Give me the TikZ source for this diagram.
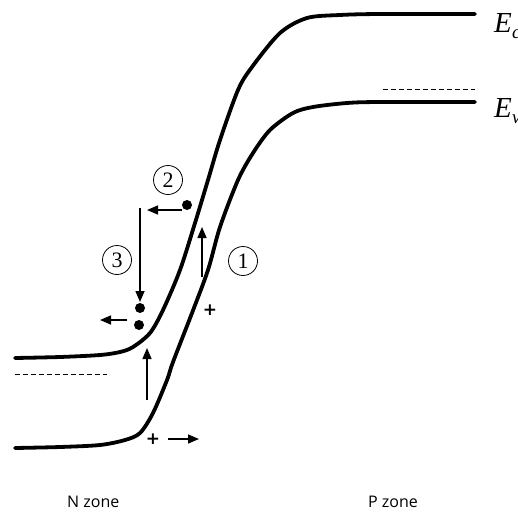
\documentclass[tikz,border=0pt]{standalone}
\usepackage{fontspec}
\setmainfont{Liberation Serif}
\newfontfamily\zonefont{Open Sans}
\newfontfamily\plusfont{DejaVu Sans}
\usetikzlibrary{arrows.meta}
\tikzset{
  band/.style={line width=3.8pt, line cap=round, line join=round},
  level/.style={line width=1pt, dash pattern=on 5pt off 3pt},
  mover/.style={line width=1.5pt, -{Triangle[length=11pt,width=9pt]}},
  carrier/.style={circle, fill=black, inner sep=0pt, minimum size=10pt},
  stepnum/.style={circle, draw, line width=0.8pt, inner sep=0pt, minimum size=29pt, font=\fontsize{22}{22}\selectfont},
  holemark/.style={font=\plusfont\bfseries\fontsize{17}{17}\selectfont, inner sep=0pt},
  zone/.style={font=\zonefont\fontsize{16}{16}\selectfont, anchor=base west, inner sep=0pt},
  elabel/.style={font=\fontsize{29}{29}\selectfont\itshape, anchor=base west, inner sep=0pt},
  esub/.style={font=\fontsize{19}{19}\selectfont\itshape, anchor=base west, inner sep=0pt}
}
\begin{document}
\begin{tikzpicture}[x=1pt,y=-1pt]
\useasboundingbox (0,0) rectangle (518,513);
% conduction band
\draw[band] plot[smooth, tension=0.5] coordinates {(15,358) (60,357) (100,355) (120,352) (133,347) (150,333) (163,310) (180,270) (195,223) (208,180) (220,140) (238,90) (252,67) (280,33) (307,18) (340,15) (380,14) (475,14)};
% valence band
\draw[band] plot[smooth, tension=0.5] coordinates {(15,448) (60,447) (100,445) (125,440) (140,433) (153,413) (167,380) (173,362) (192,313) (208,270) (220,227) (238,180) (253,153) (270,130) (293,113) (313,107) (347,103) (380,102) (475,102)};
% Fermi levels
\coordinate (fnA) at (15,374); \coordinate (fnB) at (107,374);
\draw[level] (fnA) -- (fnB);
\coordinate (fpA) at (383,90); \coordinate (fpB) at (475,90);
\draw[level] (fpA) -- (fpB);
% labels
\node[elabel] (ec) at (494,33) {E};
\node[esub] (ecs) at (512,39) {c};
\node[elabel] (ev) at (494,118) {E};
\node[esub] (evs) at (512,124) {v};
% carriers
\node[carrier] (d1) at (187,205) {};
\node[carrier] (d2) at (140,308) {};
\node[carrier] (d3) at (139,325) {};
% arrows
\coordinate (a1s) at (202,277); \coordinate (a1e) at (202,227);
\draw[mover] (a1s) -- (a1e);
\coordinate (a2s) at (182,210); \coordinate (a2e) at (147,210);
\draw[mover] (a2s) -- (a2e);
\coordinate (a3s) at (140,208); \coordinate (a3e) at (140,302);
\draw[mover] (a3s) -- (a3e);
\coordinate (a4s) at (127,320); \coordinate (a4e) at (100,320);
\draw[mover] (a4s) -- (a4e);
\coordinate (a5s) at (147,400); \coordinate (a5e) at (147,348);
\draw[mover] (a5s) -- (a5e);
\coordinate (a6s) at (168,439); \coordinate (a6e) at (199,439);
\draw[mover] (a6s) -- (a6e);
% holes
\node[holemark] (h1) at (210,310) {+};
\node[holemark] (h2) at (153,439) {+};
% step numbers
\node[stepnum] (n1) at (243,261) {1};
\node[stepnum] (n2) at (168,180) {2};
\node[stepnum] (n3) at (117,260) {3};
% zones
\node[zone] (nz) at (67,507) {N zone};
\node[zone] (pz) at (368,507) {P zone};
\end{tikzpicture}
\end{document}
